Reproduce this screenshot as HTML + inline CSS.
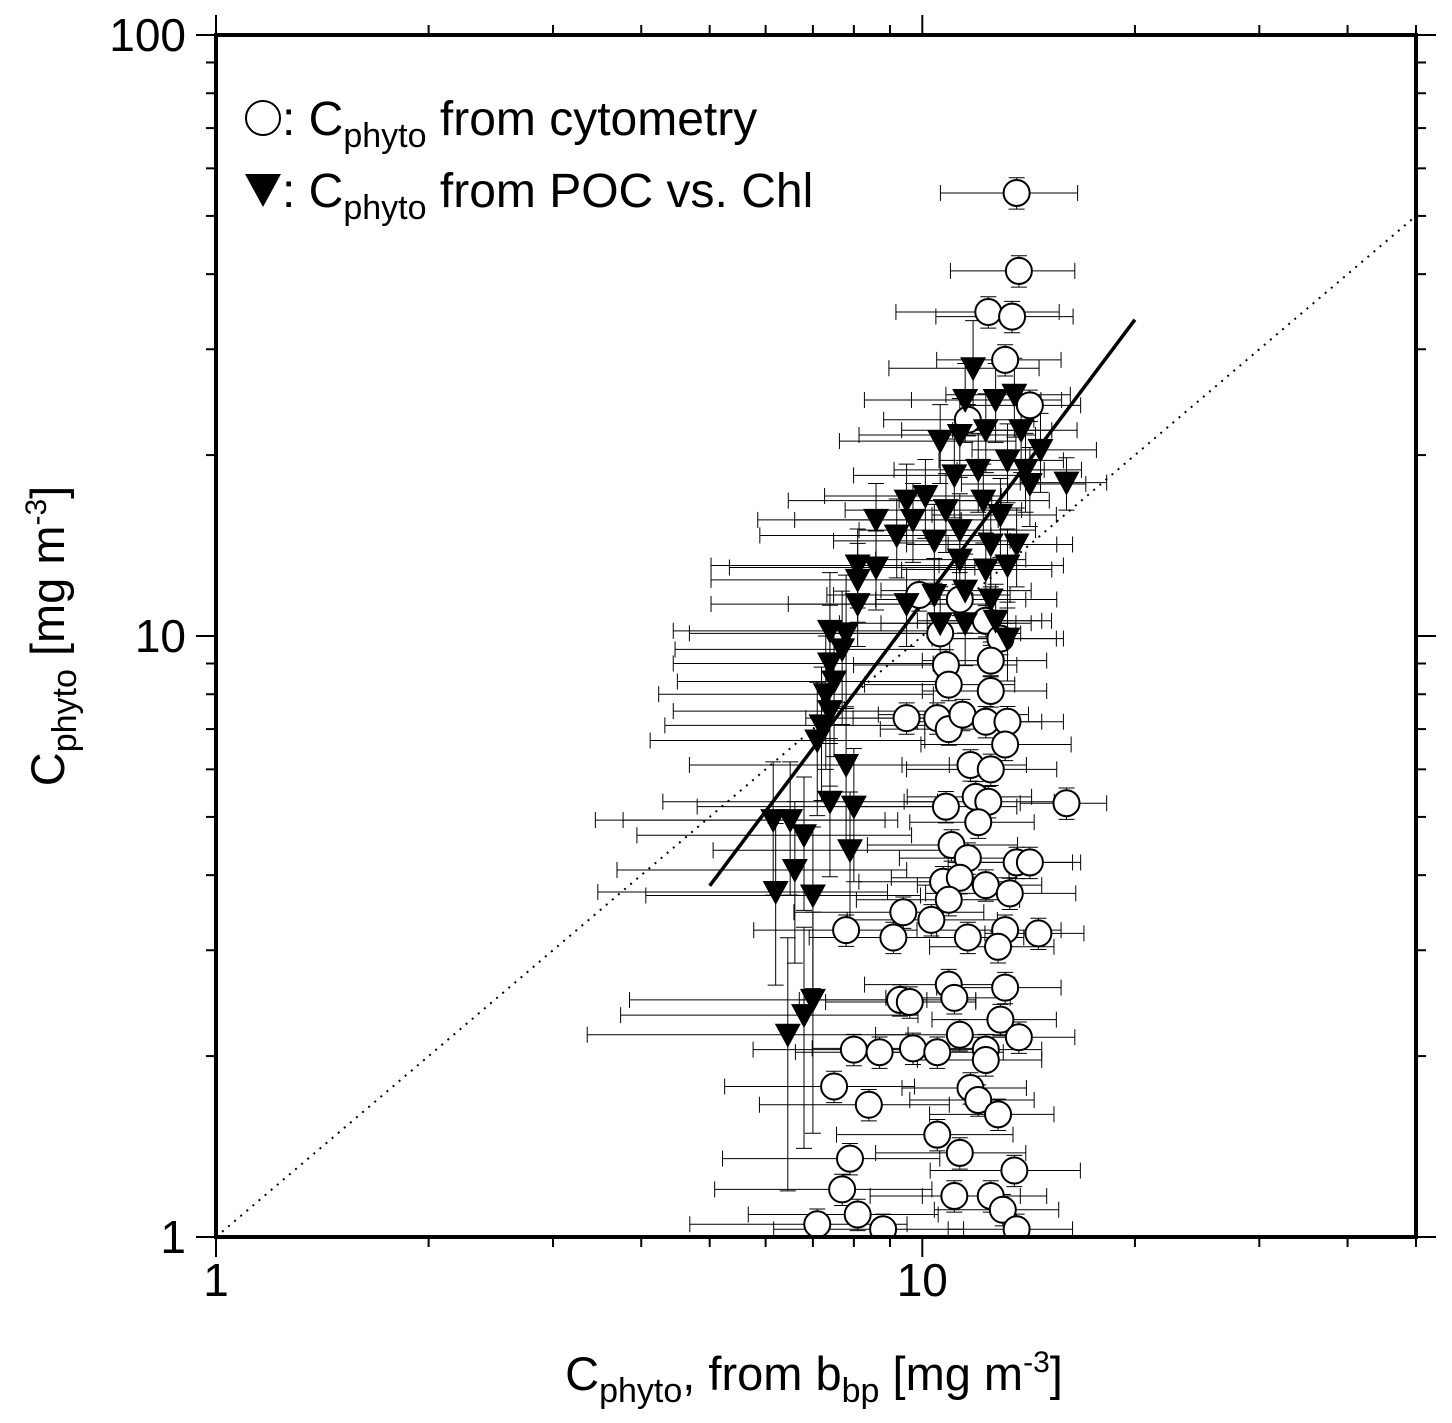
<!DOCTYPE html>
<html><head><meta charset="utf-8"><style>
html,body{margin:0;padding:0;background:#fff;}
svg text{font-family:"Liberation Sans",sans-serif;fill:#000;}
</style></head><body>
<svg id="chart" width="1452" height="1418" viewBox="0 0 1452 1418" xmlns="http://www.w3.org/2000/svg">
<g id="grid"></g>
<g id="marks"></g>
<g id="frame"></g>
<g>
<circle cx="263" cy="118" r="17" fill="#fff" stroke="#000" stroke-width="2"/>
<text x="282" y="135" font-size="48">: C<tspan font-size="34" dy="12">phyto</tspan><tspan dy="-12"> from cytometry</tspan></text>
<polygon points="245,174 281,174 263,207" fill="#000"/>
<text x="282" y="207" font-size="48">: C<tspan font-size="34" dy="12">phyto</tspan><tspan dy="-12"> from POC vs. Chl</tspan></text>
</g>
<text x="814" y="1390" font-size="47" text-anchor="middle">C<tspan font-size="34" dy="12">phyto</tspan><tspan dy="-12">, from b</tspan><tspan font-size="34" dy="12">bp</tspan><tspan dy="-12"> [mg m</tspan><tspan font-size="30" dy="-18">-3</tspan><tspan dy="18">]</tspan></text>
<text transform="translate(64,636) rotate(-90)" font-size="47" text-anchor="middle">C<tspan font-size="34" dy="12">phyto</tspan><tspan dy="-12"> [mg m</tspan><tspan font-size="30" dy="-18">-3</tspan><tspan dy="18">]</tspan></text>
</svg>
<script>
const xTickLabels=["1","10"];
const yTickLabels=["1","10","100"];
const circX=[13.6,13.7,12.4,13.4,13.1,14.2,11.6,10.6,10.8,10.9,12.5,9.5,10.5,10.9,11.4,12.3,13.2,13.1,11.7,12.5,16.0,10.8,11.9,12.4,12.0,11.0,11.6,13.6,14.2,10.7,11.3,12.3,13.3,10.9,9.4,10.3,7.8,9.1,11.6,13.1,14.6,12.8,10.9,13.1,9.3,9.6,11.1,12.9,11.3,13.7,12.3,8.0,8.7,9.7,10.5,12.3,7.5,11.7,12.0,8.4,12.8,10.5,11.3,7.9,13.5,7.7,11.1,12.5,13.0,8.1,7.1,8.8,13.6,9.9,11.3,12.3,12.9,12.5];
const circY=[54.6,40.5,34.6,34,28.8,24.2,22.9,10.1,8.95,8.3,8.1,7.3,7.3,7.0,7.4,7.2,7.2,6.6,6.1,6.0,5.27,5.2,5.4,5.3,4.9,4.49,4.27,4.2,4.2,3.9,3.96,3.85,3.73,3.64,3.47,3.37,3.24,3.15,3.15,3.24,3.2,3.04,2.63,2.6,2.48,2.46,2.5,2.3,2.17,2.15,2.05,2.05,2.03,2.06,2.03,1.97,1.78,1.77,1.69,1.66,1.6,1.48,1.38,1.35,1.29,1.2,1.17,1.17,1.11,1.09,1.05,1.03,1.03,11.7,11.5,10.6,9.9,9.1];
const triX=[11.8,11.5,12.7,13.5,10.6,11.3,12.3,13.8,14.7,14.0,16.0,14.2,11.1,12.0,13.2,9.5,10.1,8.6,9.7,10.8,12.2,12.9,9.2,10.4,11.3,12.5,13.6,8.1,8.6,11.3,12.3,13.2,8.1,9.5,10.4,11.5,12.5,8.1,11.5,12.7,10.6,13.2,7.4,7.8,7.7,7.4,7.5,7.3,7.4,7.2,7.1,7.8,7.4,8.0,6.15,6.5,6.8,7.9,6.6,6.2,7.0,7.0,6.8,6.45];
const triY=[27.9,24.7,24.7,25.2,21.1,21.6,22,22,20.4,18.9,18.0,17.9,18.5,18.9,19.6,16.8,17.1,15.6,15.6,16.2,16.8,15.9,14.7,14.4,15.0,14.2,14.2,13.1,13.0,13.4,12.9,13.1,12.4,11.3,11.7,11.9,11.5,11.3,10.5,10.6,10.5,9.9,10.2,10.1,9.5,9.0,8.4,8.0,7.5,7.1,6.7,6.1,5.3,5.2,4.94,4.94,4.66,4.4,4.08,3.75,3.7,2.48,2.34,2.17];
const circXErr=[0.22,0.2,0.26,0.22,0.2,0.18,0.24,0.3,0.26,0.24,0.2,0.28,0.24,0.2,0.24,0.2,0.2,0.24,0.2,0.24,0.14,0.26,0.2,0.24,0.2,0.24,0.2,0.2,0.18,0.24,0.2,0.2,0.24,0.26,0.3,0.24,0.26,0.24,0.2,0.2,0.16,0.2,0.24,0.2,0.28,0.24,0.2,0.2,0.24,0.2,0.2,0.28,0.24,0.28,0.24,0.2,0.3,0.2,0.2,0.3,0.2,0.28,0.24,0.34,0.24,0.34,0.24,0.2,0.2,0.3,0.34,0.3,0.2,0.26,0.24,0.2,0.2,0.2];
const triXErr=[0.24,0.28,0.24,0.2,0.28,0.28,0.24,0.2,0.2,0.2,0.14,0.2,0.28,0.24,0.2,0.32,0.28,0.32,0.32,0.28,0.24,0.2,0.36,0.28,0.28,0.24,0.2,0.38,0.38,0.24,0.24,0.2,0.38,0.32,0.28,0.24,0.24,0.38,0.24,0.2,0.28,0.2,0.4,0.4,0.42,0.4,0.4,0.42,0.4,0.4,0.42,0.4,0.42,0.4,0.44,0.42,0.42,0.36,0.44,0.44,0.42,0.45,0.45,0.48];
const circYErr=0.06;
const triYErr=[0.2,0.15,0.15,0.15,0.15,0.15,0.15,0.15,0.15,0.15,0.1,0.15,0.15,0.15,0.15,0.15,0.15,0.15,0.15,0.15,0.15,0.15,0.15,0.15,0.15,0.15,0.15,0.15,0.15,0.15,0.15,0.15,0.15,0.15,0.15,0.15,0.15,0.15,0.15,0.15,0.15,0.15,0.25,0.25,0.25,0.25,0.25,0.25,0.25,0.25,0.25,0.25,0.25,0.25,0.25,0.25,0.25,0.25,0.3,0.3,0.3,0.4,0.4,0.45];
const fitLine=[[5,3.84],[20,33.6]];
const oneToOne=[[1,1],[50,50]];

const L=216,R=1416,T=35,B=1237,XMAX=50,YMAX=100;
const X=v=>L+(R-L)*Math.log10(v)/Math.log10(XMAX);
const Y=v=>B-(B-T)*Math.log10(v)/Math.log10(YMAX);
const NS="http://www.w3.org/2000/svg";
function mk(tag,parent,attrs){const e=document.createElementNS(NS,tag);for(const k in attrs)e.setAttribute(k,attrs[k]);parent.appendChild(e);return e;}
const marks=document.getElementById('marks'),frame=document.getElementById('frame');
const clip=mk('clipPath',document.getElementById('chart'),{id:'pc'});mk('rect',clip,{x:L,y:T,width:R-L,height:B-T});
const ebG=mk('g',marks,{'clip-path':'url(#pc)',stroke:'#000','stroke-width':1});


function errbar(x,y,xe,ye){
 const x1=X(x*(1-xe)),x2=X(x*(1+xe)),y1=Y(y*(1-ye)),y2=Y(y*(1+ye)),cx=X(x),cy=Y(y);
 mk('line',ebG,{x1:x1,y1:cy,x2:x2,y2:cy});
 mk('line',ebG,{x1:x1,y1:cy-8,x2:x1,y2:cy+8});
 mk('line',ebG,{x1:x2,y1:cy-8,x2:x2,y2:cy+8});
 mk('line',ebG,{x1:cx,y1:y1,x2:cx,y2:y2});
 mk('line',ebG,{x1:cx-8,y1:y1,x2:cx+8,y2:y1});
 mk('line',ebG,{x1:cx-8,y1:y2,x2:cx+8,y2:y2});
}
circX.forEach((x,i)=>errbar(x,circY[i],circXErr[i],circYErr));
triX.forEach((x,i)=>errbar(x,triY[i],triXErr[i],triYErr[i]));
const l1=mk('line',marks,{x1:X(oneToOne[0][0]),y1:Y(oneToOne[0][1]),x2:X(oneToOne[1][0]),y2:Y(oneToOne[1][1]),stroke:'#000','stroke-width':2,'stroke-dasharray':'2,6'});


const l2=mk('line',marks,{x1:X(fitLine[0][0]),y1:Y(fitLine[0][1]),x2:X(fitLine[1][0]),y2:Y(fitLine[1][1]),stroke:'#000','stroke-width':3.5});


const ptG=mk('g',marks,{'clip-path':'url(#pc)'});
circX.forEach((x,i)=>{const c=mk('circle',ptG,{cx:X(x),cy:Y(circY[i]),r:13,fill:'#fff',stroke:'#000','stroke-width':2});
 
 });
triX.forEach((x,i)=>{const cx=X(x),cy=Y(triY[i]);const p=mk('polygon',ptG,{points:`${cx-13},${cy-11} ${cx+13},${cy-11} ${cx},${cy+13}`,fill:'#000'});
 
 });
const fr=mk('rect',frame,{x:L,y:T,width:R-L,height:B-T,fill:'none',stroke:'#000','stroke-width':4});


const tg=mk('g',frame,{stroke:'#000','stroke-width':2});
for(let d=1;d<=10;d*=10)for(let m=1;m<10;m++){const v=d*m;if(v>XMAX)break;const px=X(v),len=m==1?20:10;
 mk('line',tg,{x1:px,y1:B,x2:px,y2:B+len});mk('line',tg,{x1:px,y1:T,x2:px,y2:T-len});}
for(let d=1;d<=100;d*=10)for(let m=1;m<10;m++){const v=d*m;if(v>YMAX)break;const py=Y(v),len=m==1?20:10;
 mk('line',tg,{x1:L,y1:py,x2:L-len,y2:py});mk('line',tg,{x1:R,y1:py,x2:R+len,y2:py});}
xTickLabels.forEach(s=>{const t=mk('text',frame,{x:X(+s),y:1296,'font-size':46,'text-anchor':'middle'});t.textContent=s;
 
 });
yTickLabels.forEach(s=>{const t=mk('text',frame,{x:186,y:Y(+s)+16,'font-size':46,'text-anchor':'end'});t.textContent=s;
 
 });
</script>
</body></html>
